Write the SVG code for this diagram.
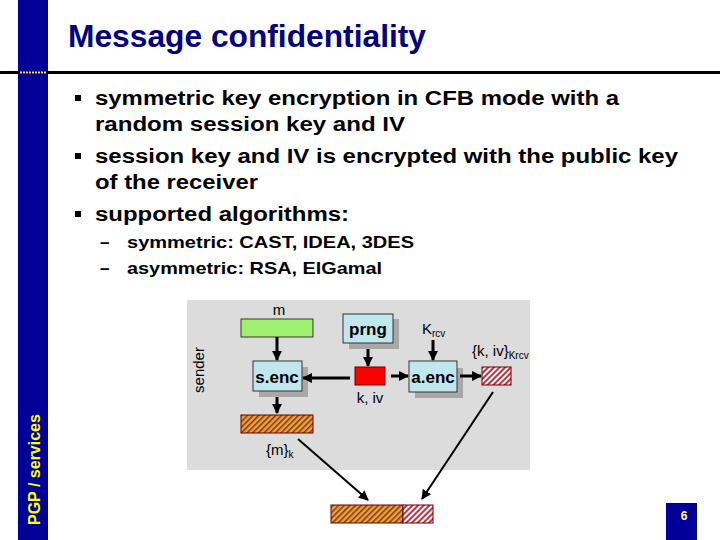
<svg xmlns="http://www.w3.org/2000/svg" width="720" height="540" viewBox="0 0 720 540">
<style>
.t{font-family:"Liberation Sans",Arial,sans-serif}
.b{font-family:"Liberation Sans",Arial,sans-serif;font-weight:bold;font-size:20px;fill:#000}
.s{font-family:"Liberation Sans",Arial,sans-serif;font-weight:bold;font-size:17px;fill:#000}
.lbl{font-family:"Liberation Sans",Arial,sans-serif;font-size:15px;fill:#000}
.box{fill:#c0e6ee;stroke:#333;stroke-width:1}
.shd{fill:#a8a8a8}
.btx{font-family:"Liberation Sans",Arial,sans-serif;font-weight:bold;font-size:17px;fill:#000;text-anchor:middle}
.ar{stroke:#000;stroke-width:3;fill:none;marker-end:url(#ah)}
.dl{stroke:#000;stroke-width:2;fill:none;marker-end:url(#ah2)}
</style>
<defs>
<marker id="ah" viewBox="0 0 10 10" refX="9" refY="5" markerWidth="3.3" markerHeight="3.3" orient="auto" markerUnits="strokeWidth"><path d="M0,0 L10,5 L0,10 z" fill="#000"/></marker>
<marker id="ah2" viewBox="0 0 10 10" refX="9" refY="5" markerWidth="5" markerHeight="5" orient="auto" markerUnits="strokeWidth"><path d="M0,0 L10,5 L0,10 z" fill="#000"/></marker>
<pattern id="ho" width="4" height="4" patternUnits="userSpaceOnUse" patternTransform="rotate(45)"><rect width="4" height="4" fill="#f0a040"/><rect width="1.5" height="4" fill="#7a3a10"/></pattern>
<pattern id="hp" width="4" height="4" patternUnits="userSpaceOnUse" patternTransform="rotate(45)"><rect width="4" height="4" fill="#fff"/><rect width="2" height="4" fill="#c03040"/></pattern>
</defs>
<rect width="720" height="540" fill="#fff"/>
<g id="frame">
<rect x="18" y="0" width="30" height="540" fill="#000099"/>
<rect x="0" y="71" width="720" height="3" fill="#000"/>
<line x1="20" y1="72.5" x2="46" y2="72.5" stroke="#f0e060" stroke-width="2" stroke-dasharray="2,1"/>
<text x="68" y="47" class="t" font-size="31" font-weight="bold" fill="#000080" textLength="358" lengthAdjust="spacingAndGlyphs">Message confidentiality</text>
<text transform="translate(40,525) rotate(-90)" class="t" font-size="16" font-weight="bold" fill="#ffff00">PGP / services</text>
<rect x="666" y="503" width="31" height="37" fill="#000099"/>
<text x="684" y="520" class="t" font-size="12" font-weight="bold" fill="#ffff99" text-anchor="middle">6</text>
</g>
<g id="bullets">
<rect x="75" y="95" width="6" height="6" fill="#000"/>
<text x="95" y="105" class="b" textLength="524" lengthAdjust="spacingAndGlyphs">symmetric key encryption in CFB mode with a</text>
<text x="95" y="131" class="b" textLength="310" lengthAdjust="spacingAndGlyphs">random session key and IV</text>
<rect x="75" y="153" width="6" height="6" fill="#000"/>
<text x="95" y="163" class="b" textLength="583" lengthAdjust="spacingAndGlyphs">session key and IV is encrypted with the public key</text>
<text x="95" y="189" class="b" textLength="163" lengthAdjust="spacingAndGlyphs">of the receiver</text>
<rect x="75" y="211" width="6" height="6" fill="#000"/>
<text x="95" y="221" class="b" textLength="254" lengthAdjust="spacingAndGlyphs">supported algorithms:</text>
<text x="100" y="248" class="s">–</text><text x="127" y="248" class="s" textLength="287" lengthAdjust="spacingAndGlyphs">symmetric: CAST, IDEA, 3DES</text>
<text x="100" y="274" class="s">–</text><text x="127" y="274" class="s" textLength="255" lengthAdjust="spacingAndGlyphs">asymmetric: RSA, ElGamal</text>
</g>
<g id="sender">
<rect x="187" y="300" width="343" height="170" fill="#dcdcdc"/>
<text transform="translate(204,370) rotate(-90)" class="lbl" text-anchor="middle">sender</text>
</g>
<g id="m">
<rect x="241" y="319" width="72" height="18" fill="#a0f070" stroke="#333" stroke-width="1"/>
<text x="279" y="315" class="lbl" text-anchor="middle">m</text>
</g>
<g id="prng">
<rect x="349" y="319" width="50" height="30" class="shd"/>
<rect x="343" y="314" width="50" height="29" class="box"/>
<text x="368" y="335" class="btx">prng</text>
</g>
<g id="krcv">
<text x="422" y="334" class="lbl">K<tspan font-size="10" dy="3">rcv</tspan></text>
</g>
<g id="senc">
<rect x="259" y="367" width="49" height="30" class="shd"/>
<rect x="253" y="361" width="49" height="30" class="box"/>
<text x="277" y="383" class="btx">s.enc</text>
</g>
<g id="key">
<rect x="355" y="367" width="30" height="18" fill="#ff0000" stroke="#600" stroke-width="1"/>
<text x="370" y="403" class="lbl" text-anchor="middle">k, iv</text>
</g>
<g id="aenc">
<rect x="415" y="368" width="48" height="30" class="shd"/>
<rect x="409" y="361" width="48" height="31" class="box"/>
<text x="433" y="383" class="btx">a.enc</text>
</g>
<g id="ekey">
<rect x="482" y="367" width="29" height="18" fill="url(#hp)" stroke="#600" stroke-width="1"/>
<text x="472" y="356" class="lbl">{k, iv}<tspan font-size="10" dy="3">Krcv</tspan></text>
</g>
<g id="emsg">
<rect x="241" y="415" width="72" height="18" fill="url(#ho)" stroke="#600" stroke-width="1"/>
<text x="266" y="455" class="lbl">{m}<tspan font-size="10" dy="3">k</tspan></text>
</g>
<g id="out">
<rect x="331" y="505" width="72" height="18" fill="url(#ho)" stroke="#600" stroke-width="1"/>
<rect x="403" y="505" width="30" height="18" fill="url(#hp)" stroke="#600" stroke-width="1"/>
</g>
<g id="connectors">
<line x1="277" y1="337" x2="277" y2="360" class="ar"/>
<line x1="368" y1="349" x2="368" y2="366" class="ar"/>
<line x1="350" y1="378" x2="303" y2="378" class="ar"/>
<line x1="391" y1="376" x2="408" y2="376" class="ar"/>
<line x1="433" y1="340" x2="433" y2="360" class="ar"/>
<line x1="460" y1="376" x2="481" y2="376" class="ar"/>
<line x1="277" y1="397" x2="277" y2="413" class="ar"/>
<line x1="298" y1="439" x2="368" y2="500" class="dl"/>
<line x1="493" y1="392" x2="422" y2="499" class="dl"/>
</g>
</svg>
